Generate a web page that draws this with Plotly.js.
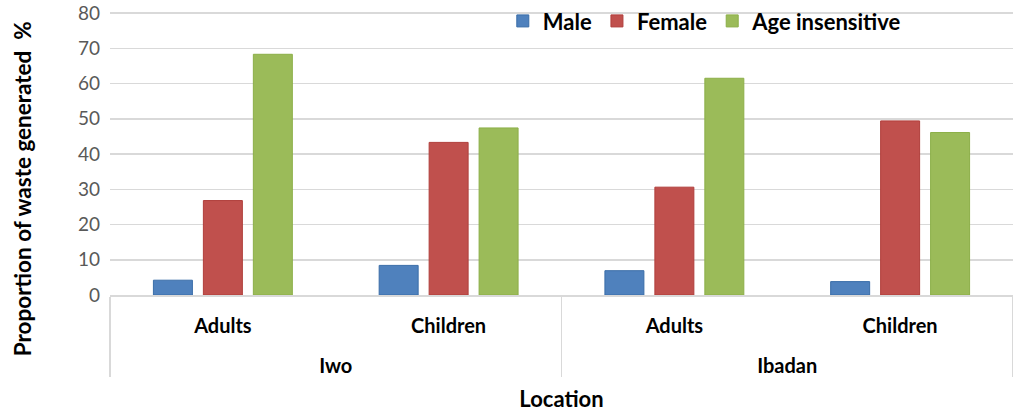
<!DOCTYPE html>
<html>
<head>
<meta charset="utf-8">
<script src="https://cdn.plot.ly/plotly-3.0.1.min.js"></script>
<style>html,body{margin:0;padding:0;background:#fff;}#chart{width:1013px;height:412px;}</style>
</head>
<body>
<div id="chart"></div>
<script>
var locations = ["Iwo", "Iwo", "Ibadan", "Ibadan"];
var groups = ["Adults", "Children", "Adults", "Children"];
var seriesNames = ["Male", "Female", "Age insensitive"];
var male = [4.2, 8.4, 6.9, 3.8];
var female = [26.8, 43.3, 30.6, 49.4];
var ageInsensitive = [68.3, 47.4, 61.5, 46.1];
var yTicks = [0, 10, 20, 30, 40, 50, 60, 70, 80];

var fills = ["#4F81BD", "#C0504D", "#9BBB59"];
var edges = ["#3A6DA8", "#B03E3B", "#8CAF48"];
var values = [male, female, ageInsensitive];

// second-level labels pushed down one line to leave room between the two label rows
var outerLabels = locations.map(function (l) { return "<br>" + l; });

var traces = seriesNames.map(function (n, i) {
  return {
    type: "bar",
    name: n,
    x: [outerLabels, groups],
    y: values[i],
    marker: { color: fills[i], line: { color: edges[i], width: 1 } },
    hoverinfo: "y"
  };
});

var FONT = "Lato, 'Open Sans', sans-serif";

var layout = {
  width: 1013,
  height: 412,
  margin: { l: 110, r: 0, t: 10, b: 117 },
  paper_bgcolor: "#ffffff",
  plot_bgcolor: "#ffffff",
  barmode: "group",
  bargap: 0.336,
  bargroupgap: 0.22,
  font: { family: FONT, color: "#000" },
  xaxis: {
    type: "multicategory",
    automargin: false,
    showdividers: true,
    dividercolor: "#d9d9d9",
    dividerwidth: 1.5,
    showline: true,
    linecolor: "#d9d9d9",
    linewidth: 1.5,
    ticks: "",
    showgrid: false,
    ticklabelstandoff: 12,
    tickfont: { family: FONT, size: 20, weight: "bold", color: "#000" },
    title: { text: "Location", font: { family: FONT, size: 22, weight: "bold", color: "#000" }, standoff: 16 }
  },
  yaxis: {
    range: [0, 80.3],
    automargin: false,
    tickvals: yTicks,
    ticktext: yTicks.map(String),
    showgrid: true,
    gridcolor: "#d9d9d9",
    gridwidth: 1.5,
    zeroline: false,
    showline: false,
    ticks: "",
    ticklabelstandoff: 9,
    tickfont: { family: FONT, size: 19, color: "#595959" }
  },
  legend: {
    orientation: "h",
    x: 0.435,
    xanchor: "left",
    y: 1.042,
    yanchor: "top",
    bgcolor: "rgba(0,0,0,0)",
    font: { family: FONT, size: 22, weight: "bold", color: "#000" },
    itemwidth: 30,
    traceorder: "normal"
  },
  annotations: [{
    text: "Proportion of waste generated  %",
    xref: "paper", yref: "paper",
    x: -0.0975, y: 0.377,
    xanchor: "center", yanchor: "middle",
    textangle: -90,
    showarrow: false,
    font: { family: FONT, size: 22.5, weight: "bold", color: "#000" }
  }]
};

Plotly.newPlot("chart", traces, layout, { staticPlot: true, displayModeBar: false });
</script>
</body>
</html>
